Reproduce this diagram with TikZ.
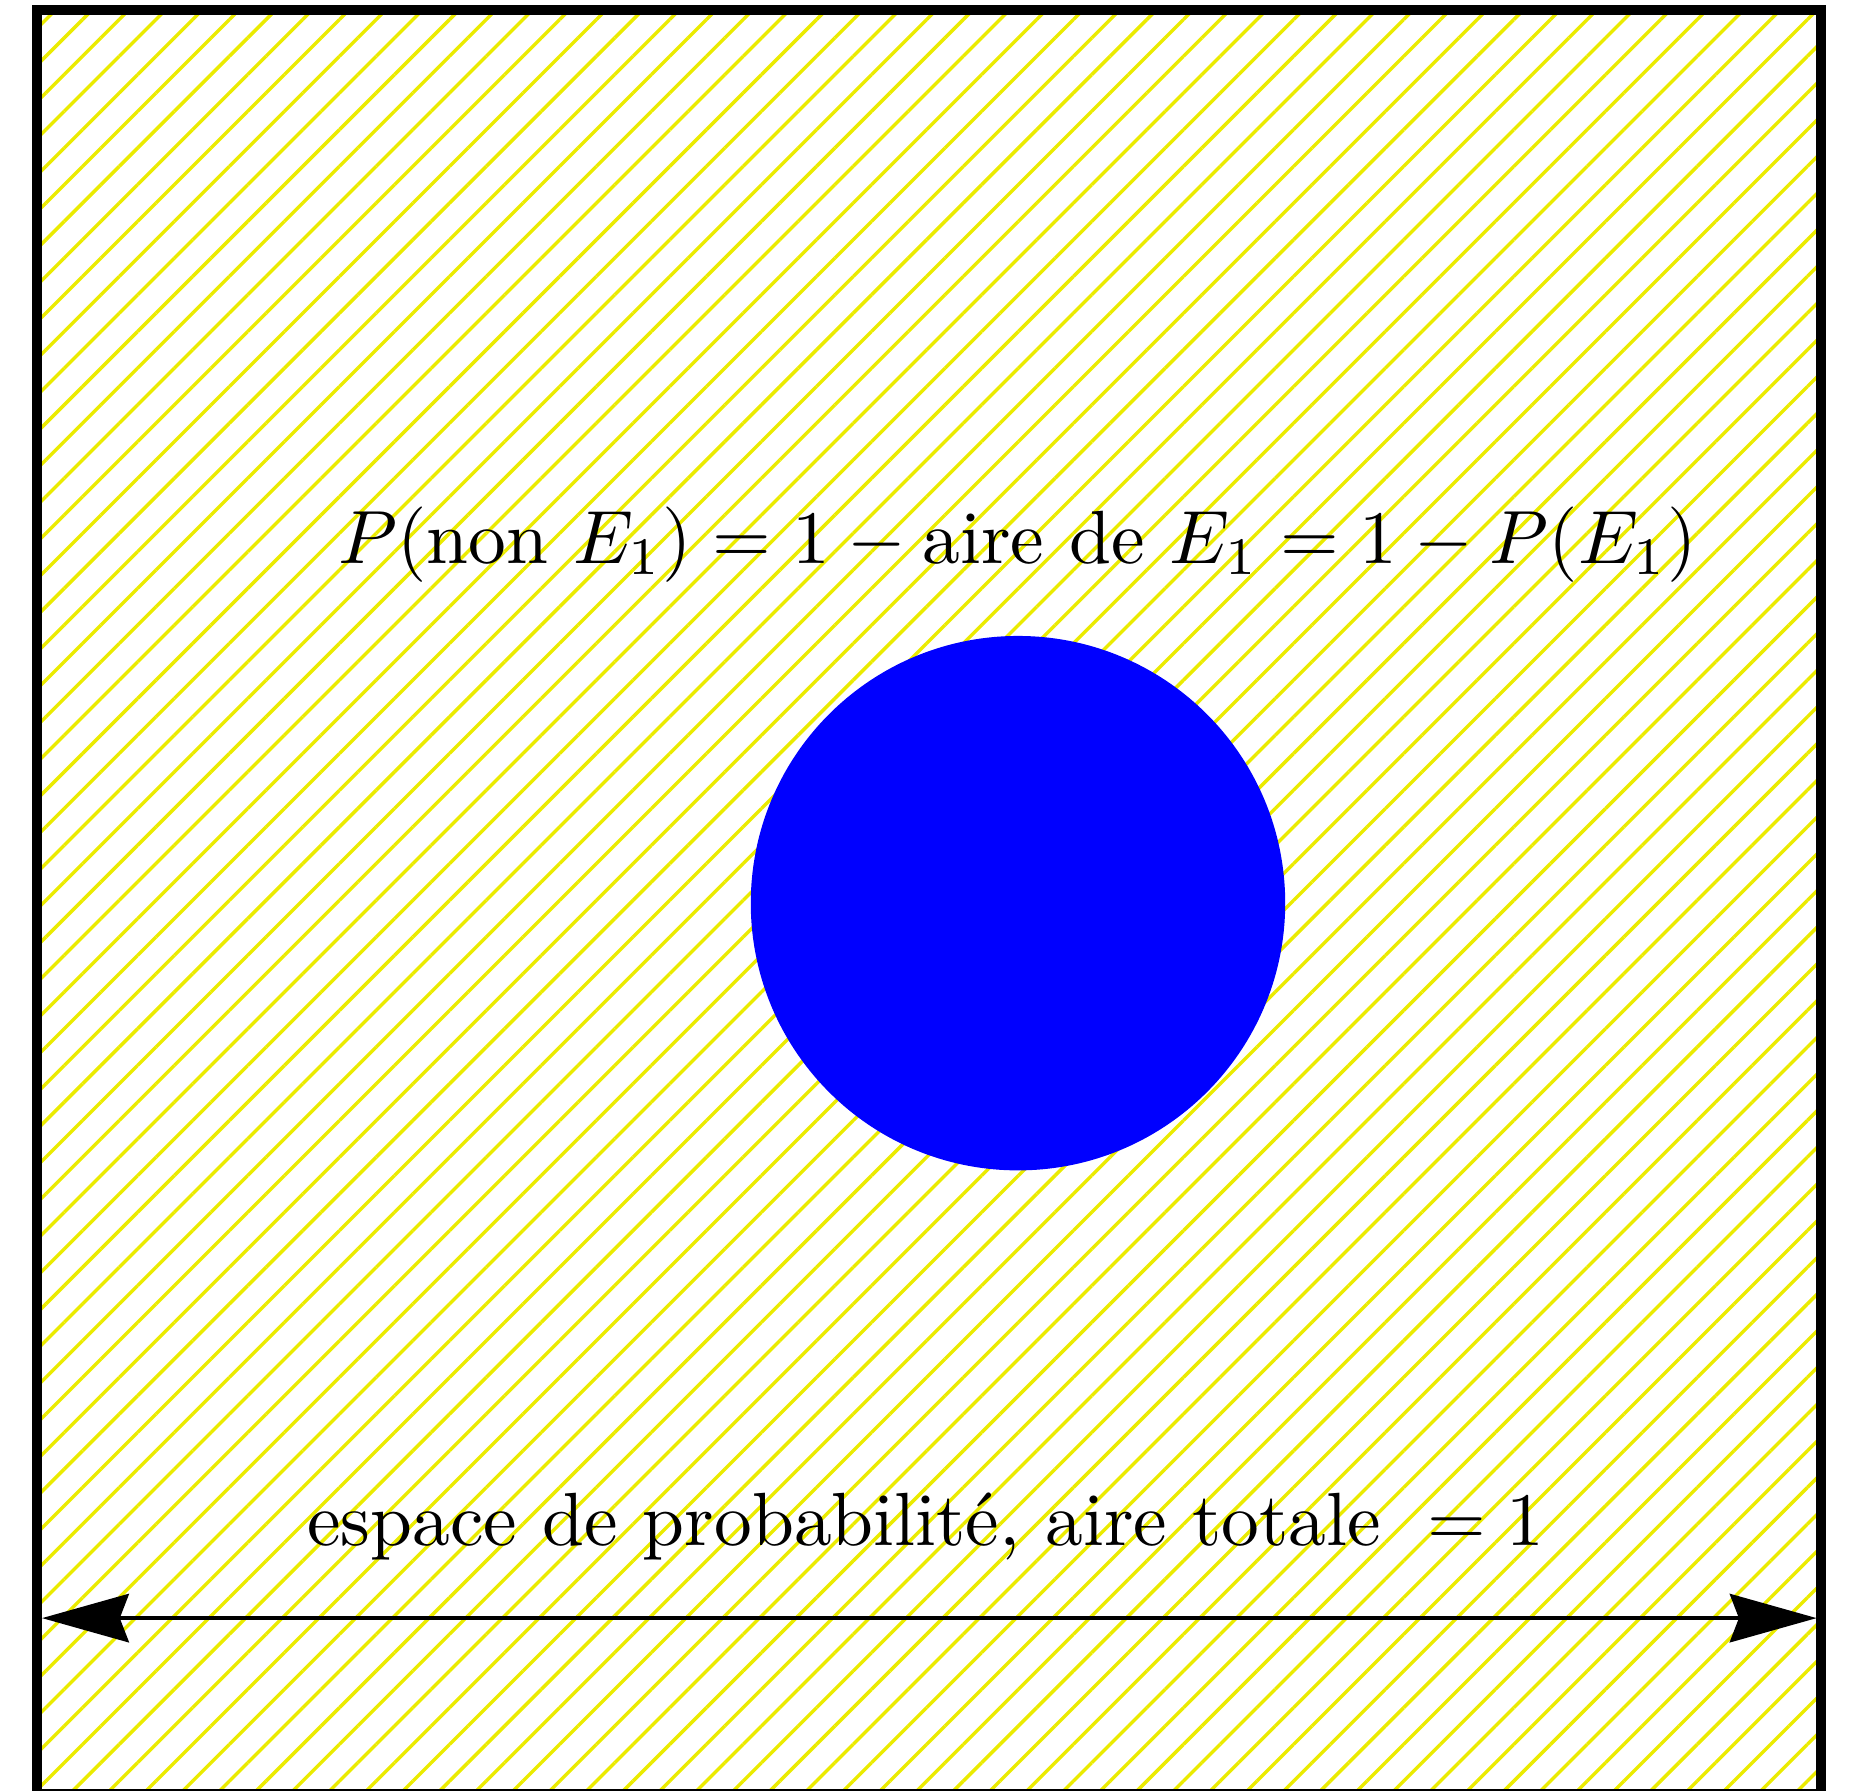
\documentclass[tikz,border=0pt]{standalone}
\usepackage{amsmath}
\usetikzlibrary{arrows.meta,patterns.meta}

\begin{document}
\begin{tikzpicture}[>={Stealth[length=11.5pt,width=6.4pt,inset=1.2pt]}]

  \useasboundingbox (-0.172,0.016) rectangle (8.443,8.357);

  % Whole probability space: hatched square, the event E_1 as a solid disc.
  \fill[pattern={Lines[angle=45,distance=3.44pt,line width=0.45pt]},
        pattern color=yellow!92!black] (0,0) rectangle (8.311,8.311);
  \fill[blue] (4.571,4.149) circle (1.245);
  \draw[line width=1.3pt] (0,0) rectangle (8.311,8.311);

  \node[anchor=base] (compl) at (4.569,5.733)
    {$P(\text{non } E_1) = 1 - \text{aire de } E_1 = 1 - P(E_1)$};
  \node[anchor=base] (total) at (4.142,1.157)
    {$\text{espace de probabilité, aire totale } = 1$};

  % Width of the square.
  \coordinate (west) at (0.024,0.818);
  \coordinate (east) at (8.292,0.818);
  \draw[<->, semithick] (west) -- (east);

\end{tikzpicture}
\end{document}
